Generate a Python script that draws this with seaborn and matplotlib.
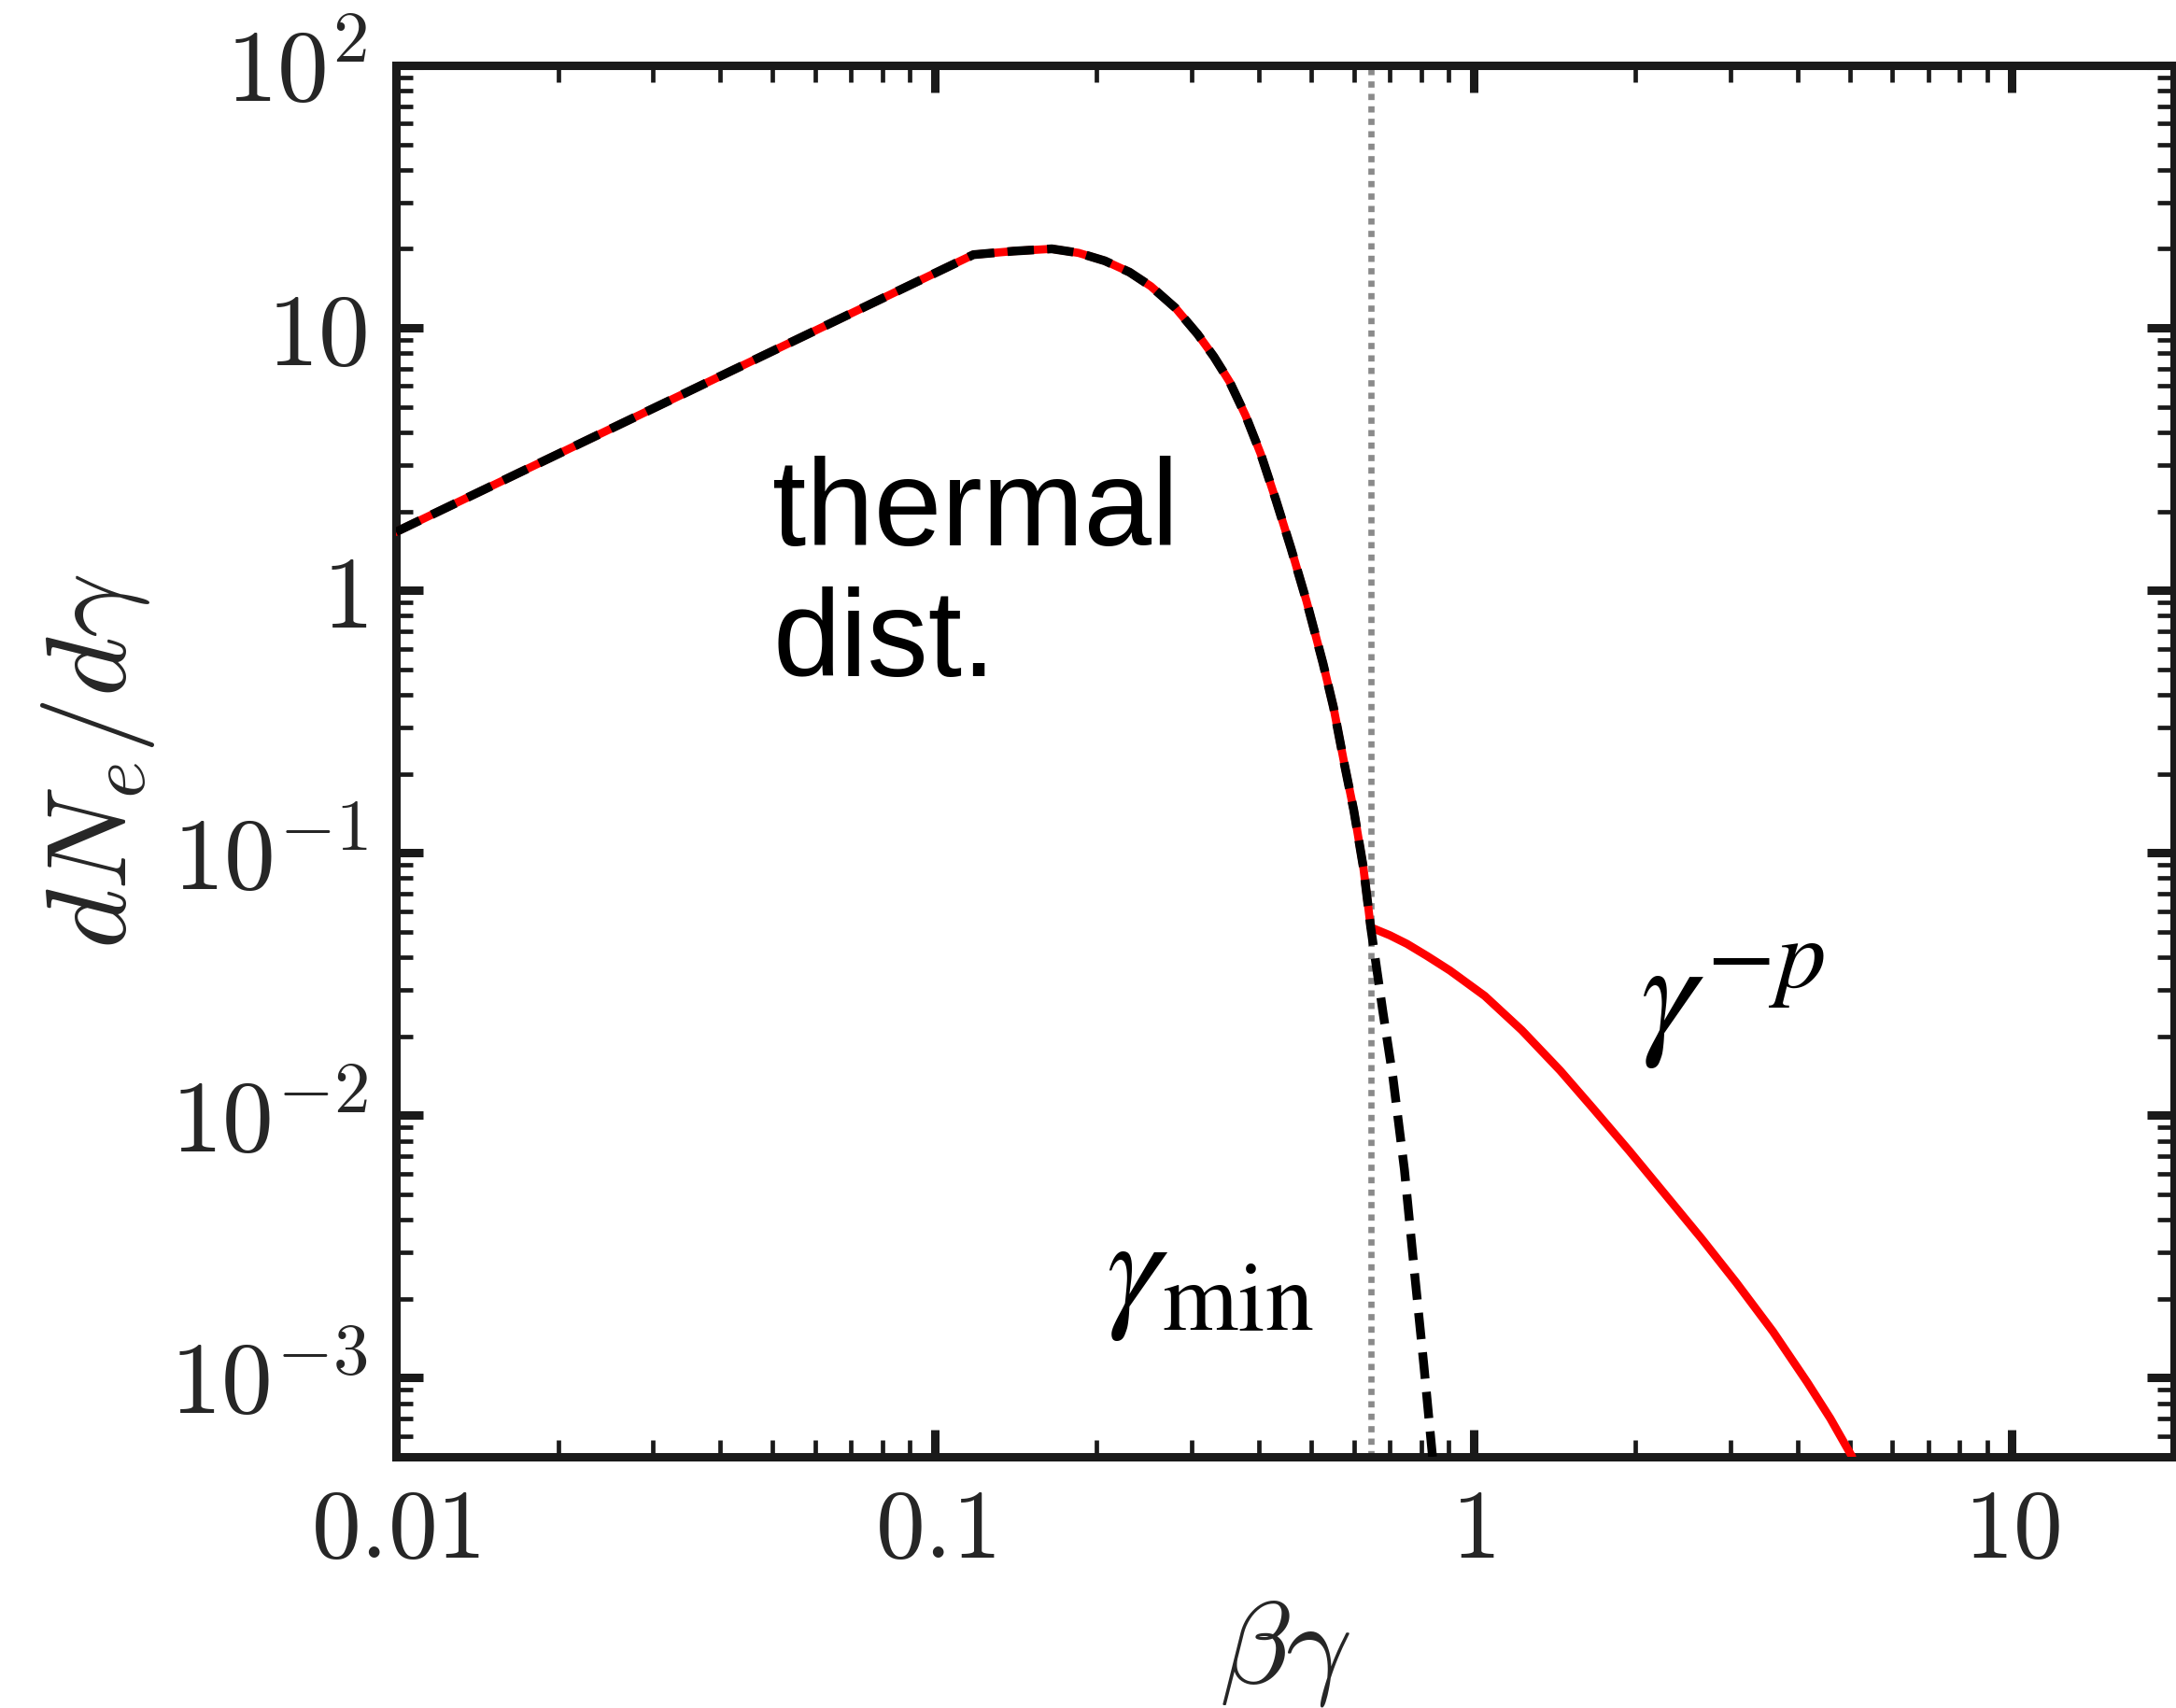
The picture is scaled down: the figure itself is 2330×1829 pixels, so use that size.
import numpy as np
import pandas as pd
import matplotlib
matplotlib.use("Agg")
import matplotlib.pyplot as plt
import matplotlib.ticker as mticker
import seaborn as sns

# ---------------- data ----------------
thermal_x = [0.010, 0.118, 0.140, 0.165, 0.185, 0.207, 0.230, 0.252, 0.280, 0.308, 0.330,
             0.353, 0.378, 0.403, 0.430, 0.459, 0.490, 0.526, 0.550, 0.577, 0.600, 0.625, 0.645]
thermal_y = [1.67, 19.0, 19.6, 20.0, 19.3, 18.0, 16.3, 14.4, 11.9, 9.44, 7.76,
             6.22, 4.62, 3.31, 2.21, 1.44, 0.912, 0.527, 0.359, 0.215, 0.145, 0.088, 0.052]

thermal_tail_x = [0.680, 0.709, 0.745, 0.778, 0.810, 0.840]
thermal_tail_y = [0.0245, 0.0140, 0.0062, 0.0025, 0.0011, 0.0005]

powerlaw_x = [0.645, 0.700, 0.753, 0.820, 0.905, 1.05, 1.23, 1.45, 1.67, 1.95,
              2.27, 2.65, 3.08, 3.60, 4.17, 4.60, 5.05]
powerlaw_y = [0.052, 0.0485, 0.045, 0.0405, 0.0356, 0.0285, 0.0211, 0.0148, 0.0106, 0.0073,
              0.0050, 0.0034, 0.0023, 0.0015, 0.00096, 0.00070, 0.0005]

gamma_min = 0.645

xticks = [0.01, 0.1, 1, 10]
xtick_labels = [r"$0.01$", r"$0.1$", r"$1$", r"$10$"]
yticks = [1e-3, 1e-2, 1e-1, 1, 10, 100]
ytick_labels = [r"$10^{-3}$", r"$10^{-2}$", r"$10^{-1}$", r"$1$", r"$10$", r"$10^{2}$"]

# ---------------- style ----------------
sns.set_style("ticks")
plt.rcParams["font.family"] = ["Liberation Sans", "DejaVu Sans"]
plt.rcParams["mathtext.fontset"] = "cm"

W, H = 2330, 1829
fig = plt.figure(figsize=(W / 100, H / 100), dpi=100)
ax = fig.add_axes([424 / W, (H - 1560) / H, (2328 - 424) / W, (1560 - 70) / H])

total_df = pd.DataFrame({"x": thermal_x + powerlaw_x[1:], "y": thermal_y + powerlaw_y[1:]})
thermal_df = pd.DataFrame({"x": thermal_x + thermal_tail_x, "y": thermal_y + thermal_tail_y})

sns.lineplot(data=total_df, x="x", y="y", color="#ff0000", lw=6.3, sort=False,
             estimator=None, ax=ax, zorder=3)
sns.lineplot(data=thermal_df, x="x", y="y", color="black", lw=6.8, sort=False,
             estimator=None, ax=ax, zorder=4)
ax.lines[-1].set_dashes((3.0, 1.5))

ax.axvline(gamma_min, color="#8a8a8a", lw=4.8, ls=(0, (1, 1.0)), zorder=2)

ax.set_xscale("log")
ax.set_yscale("log")
ax.set_xlim(0.01, 20)
ax.set_ylim(5e-4, 100)

ax.xaxis.set_major_locator(mticker.FixedLocator(xticks))
ax.xaxis.set_major_formatter(mticker.FixedFormatter(xtick_labels))
ax.yaxis.set_major_locator(mticker.FixedLocator(yticks))
ax.yaxis.set_major_formatter(mticker.FixedFormatter(ytick_labels))
ax.xaxis.set_minor_locator(mticker.LogLocator(base=10, subs=np.arange(2, 10), numticks=20))
ax.yaxis.set_minor_locator(mticker.LogLocator(base=10, subs=np.arange(2, 10), numticks=20))
ax.xaxis.set_minor_formatter(mticker.NullFormatter())
ax.yaxis.set_minor_formatter(mticker.NullFormatter())

ax.tick_params(which="both", direction="in", top=True, right=True, color="#1a1a1a")
ax.tick_params(which="major", length=21, width=6.5, pad=22)
ax.tick_params(axis="x", which="major", labelsize=76)
ax.tick_params(axis="y", which="major", labelsize=79)
ax.tick_params(which="minor", length=13, width=3.4)
for s in ax.spines.values():
    s.set_linewidth(6.5)
    s.set_color("#1a1a1a")

ax.set_xlabel(r"$\beta\gamma$", fontsize=90, labelpad=16)
ax.set_ylabel(r"$dN_e/d\gamma$", fontsize=88, labelpad=10)

ax.text(0.0500, 10 ** (2 - (488 - 70) / 281), "thermal\ndist.", fontsize=94,
        family=["Liberation Sans", "DejaVu Sans"], ha="left", va="top",
        linespacing=1.18, color="black")
ax.text(0.208, 10 ** (2 - (1405 - 70) / 281), r"$\gamma_{\rm min}$", fontsize=107,
        math_fontfamily="stix", ha="left", va="baseline", color="black")
ax.text(2.04, 10 ** (2 - (1112 - 70) / 281), r"$\gamma^{-p}$", fontsize=110,
        math_fontfamily="stix", ha="left", va="baseline", color="black")

fig.savefig("out.png", dpi=100, facecolor="white")
